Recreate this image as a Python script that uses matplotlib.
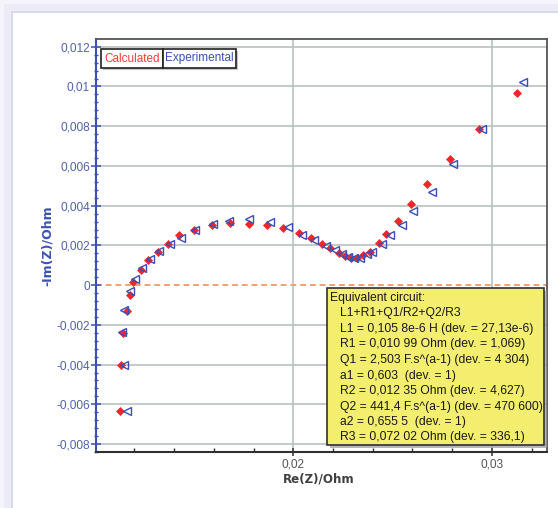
import matplotlib
matplotlib.use("Agg")
import matplotlib.pyplot as plt
import numpy as np
from matplotlib.patches import Rectangle
from matplotlib.ticker import FixedLocator, MultipleLocator

# ---------------- data ----------------
calc_re = [0.01128, 0.01134, 0.01141, 0.01165, 0.01177, 0.01195, 0.01232, 0.01270,
           0.01318, 0.01371, 0.01426, 0.01502, 0.01589, 0.01681, 0.01779, 0.01866,
           0.01950, 0.02030, 0.02089, 0.02143, 0.02187, 0.02228, 0.02260, 0.02290,
           0.02319, 0.02352, 0.02386, 0.02433, 0.02468, 0.02528, 0.02592, 0.02671,
           0.02789, 0.02935, 0.03127]
calc_im = [-0.00632, -0.00402, -0.00240, -0.00129, -0.00049, 0.00018, 0.00075, 0.00126,
           0.00167, 0.00209, 0.00251, 0.00278, 0.00303, 0.00313, 0.00310, 0.00303,
           0.00286, 0.00263, 0.00236, 0.00208, 0.00189, 0.00164, 0.00148, 0.00139,
           0.00137, 0.00150, 0.00168, 0.00210, 0.00258, 0.00323, 0.00407, 0.00508,
           0.00636, 0.00785, 0.00968]

exp_re = [0.01164, 0.01146, 0.01138, 0.01150, 0.01180, 0.01202, 0.01240, 0.01279,
          0.01324, 0.01380, 0.01435, 0.01507, 0.01594, 0.01678, 0.01776, 0.01883,
          0.01975, 0.02042, 0.02104, 0.02165, 0.02210, 0.02244, 0.02277, 0.02307,
          0.02336, 0.02370, 0.02395, 0.02445, 0.02487, 0.02545, 0.02601, 0.02697,
          0.02805, 0.02948, 0.03158]
exp_im = [-0.00636, -0.00402, -0.00235, -0.00123, -0.00032, 0.00030, 0.00088, 0.00134,
          0.00172, 0.00206, 0.00239, 0.00279, 0.00306, 0.00323, 0.00335, 0.00318,
          0.00293, 0.00251, 0.00229, 0.00197, 0.00176, 0.00156, 0.00142, 0.00136,
          0.00139, 0.00156, 0.00169, 0.00206, 0.00251, 0.00303, 0.00373, 0.00470,
          0.00608, 0.00787, 0.01025]

y_ticks = [-0.008, -0.006, -0.004, -0.002, 0.0, 0.002, 0.004, 0.006, 0.008, 0.010, 0.012]
y_tick_labels = ['-0,008', '-0,006', '-0,004', '-0,002', '0', '0,002', '0,004',
                 '0,006', '0,008', '0,01', '0,012']
x_ticks = [0.02, 0.03]
x_tick_labels = ['0,02', '0,03']

legend_labels = ['Calculated', 'Experimental']
circuit_lines = [
    "Equivalent circuit:",
    "L1+R1+Q1/R2+Q2/R3",
    "L1 = 0,105 8e-6 H (dev. = 27,13e-6)",
    "R1 = 0,010 99 Ohm (dev. = 1,069)",
    "Q1 = 2,503 F.s^(a-1) (dev. = 4 304)",
    "a1 = 0,603  (dev. = 1)",
    "R2 = 0,012 35 Ohm (dev. = 4,627)",
    "Q2 = 441,4 F.s^(a-1) (dev. = 470 600)",
    "a2 = 0,655 5  (dev. = 1)",
    "R3 = 0,072 02 Ohm (dev. = 336,1)",
]

# ---------------- figure ----------------
W, H = 558, 508
fig = plt.figure(figsize=(W / 100, H / 100), dpi=100)
fig.patch.set_facecolor('#ebebf6')

# background panel with lavender frame
bg = fig.add_axes([0, 0, 1, 1], zorder=-10)
bg.set_xlim(0, W)
bg.set_ylim(H, 0)
bg.axis('off')
bg.add_patch(Rectangle((0, 0), W, H, facecolor='#ececf7', edgecolor='none'))
bg.add_patch(Rectangle((0, 0), W, 4, facecolor='#f4f4fa', edgecolor='none'))
bg.add_patch(Rectangle((0, 0), 4, H, facecolor='#f4f4fa', edgecolor='none'))
bg.add_patch(Rectangle((11, 11), W, H, facecolor='#d9d9ee', edgecolor='none'))
bg.add_patch(Rectangle((13, 13), W, H, facecolor='white', edgecolor='none'))

ax_l, ax_r, ax_t, ax_b = 96, 547, 39, 452
ax = fig.add_axes([ax_l / W, 1 - ax_b / H, (ax_r - ax_l) / W, (ax_b - ax_t) / H])
ax.set_xlim(0.01007, 0.03277)
ax.set_ylim(-0.0084, 0.01239)

# grid
grid_c = '#b9c1c1'
for yv in y_ticks:
    if yv != 0:
        ax.axhline(yv, color=grid_c, lw=1.2, zorder=1)
for xv in x_ticks:
    ax.axvline(xv, color=grid_c, lw=1.2, zorder=1)
ax.axhline(0, color='#f4a072', lw=1.4, ls=(0, (3, 2)), zorder=1)

# data
ax.plot(calc_re, calc_im, ls='none', marker='D', ms=4.3, mfc='#f0262a', mec='#f0262a',
        mew=0.5, zorder=3)
ax.plot(exp_re, exp_im, ls='none', marker='<', ms=5.4, mfc='none', mec='#3b4fb4',
        mew=1.0, zorder=4)

# ticks
ax.yaxis.set_major_locator(FixedLocator(y_ticks))
ax.set_yticklabels(y_tick_labels)
ax.yaxis.set_minor_locator(MultipleLocator(0.0004))
ax.xaxis.set_major_locator(FixedLocator(x_ticks))
ax.set_xticklabels(x_tick_labels)
ax.xaxis.set_minor_locator(MultipleLocator(0.002))

tick_font = 'Liberation Sans'
ax.tick_params(axis='y', which='major', direction='inout', length=7, width=1.1,
               color='#3b4fb4', labelcolor='#5262aa', labelsize=8.6, pad=1)
ax.tick_params(axis='y', which='minor', direction='inout', length=3.5, width=1,
               color='#3b4fb4')
ax.tick_params(axis='x', which='major', direction='inout', length=6, width=1.1,
               color='#303030', labelcolor='#555555', labelsize=8.6, pad=2)
ax.tick_params(axis='x', which='minor', direction='in', length=3, width=1,
               color='#303030')
for lab in ax.get_yticklabels() + ax.get_xticklabels():
    lab.set_fontfamily(tick_font)

for side in ['top', 'right']:
    ax.spines[side].set_color('#555555')
    ax.spines[side].set_linewidth(1.3)
ax.spines['left'].set_color('#3b4fb4')
ax.spines['left'].set_linewidth(1.5)
ax.spines['bottom'].set_color('#303030')
ax.spines['bottom'].set_linewidth(1.5)

ax.set_ylabel('-Im(Z)/Ohm', fontsize=9.0, fontweight='bold', color='#3b52b4',
              family='DejaVu Sans')
ax.yaxis.set_label_coords((47 - ax_l) / (ax_r - ax_l), 0.5)
ax.yaxis.label.set_va('center')
ax.set_xlabel('Re(Z)/Ohm', fontsize=8.6, fontweight='bold', color='#404040',
              family='DejaVu Sans')
ax.xaxis.set_label_coords((319 - ax_l) / (ax_r - ax_l), -(479 - ax_b) / (ax_b - ax_t))
ax.xaxis.label.set_va('center')

def px2ax(px, py):
    return (px - ax_l) / (ax_r - ax_l), 1 - (py - ax_t) / (ax_b - ax_t)

# legend boxes
leg_boxes = [(101, 163), (163, 236)]
leg_colors = ['#f03c3c', '#3b4fb4']
ly0, ly1 = 49, 68
for (x0, x1), lab, c in zip(leg_boxes, legend_labels, leg_colors):
    a0 = px2ax(x0, ly1)
    a1 = px2ax(x1, ly0)
    sh = Rectangle((a0[0] + 2 / 451, a0[1] - 2 / 413), a1[0] - a0[0], a1[1] - a0[1],
                   transform=ax.transAxes, facecolor='#c8c8c8', edgecolor='none', zorder=5)
    ax.add_patch(sh)
    r = Rectangle(a0, a1[0] - a0[0], a1[1] - a0[1], transform=ax.transAxes,
                  facecolor='white', edgecolor='#202020', lw=1.2, zorder=6)
    ax.add_patch(r)
    ax.text((a0[0] + a1[0]) / 2, (a0[1] + a1[1]) / 2, lab, transform=ax.transAxes,
            ha='center', va='center', color=c, fontsize=8.5, family=tick_font, zorder=7)

# equivalent circuit box
bx0, bx1, by0, by1 = 326.7, 544.3, 288.3, 445
b0 = px2ax(bx0, by1)
b1 = px2ax(bx1, by0)
ax.add_patch(Rectangle((b0[0] + 3 / 451, b0[1] - 3 / 413), b1[0] - b0[0], b1[1] - b0[1],
                       transform=ax.transAxes, facecolor='#9a9a9a', edgecolor='none',
                       zorder=5, clip_on=False, alpha=0.7))
ax.add_patch(Rectangle(b0, b1[0] - b0[0], b1[1] - b0[1], transform=ax.transAxes,
                       facecolor='#f4ee6e', edgecolor='#303030', lw=1.2, zorder=6))
line_y = [298.3, 313.3, 329, 344.3, 360, 375.7, 390.7, 406.7, 421.7, 437.3]
for i, (txt, yy) in enumerate(zip(circuit_lines, line_y)):
    xx = 330 if i == 0 else 340
    p = px2ax(xx, yy)
    ax.text(p[0], p[1], txt, transform=ax.transAxes, ha='left', va='center',
            fontsize=8.7, family=tick_font, color='#1a1a1a', zorder=7)

fig.savefig('out.png', dpi=100, facecolor=fig.get_facecolor())
